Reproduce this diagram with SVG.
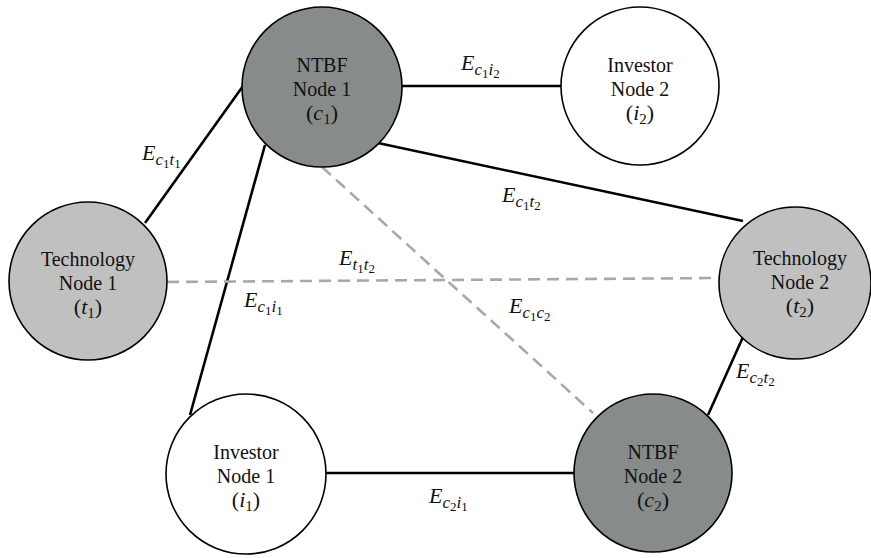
<svg xmlns="http://www.w3.org/2000/svg" width="871" height="558" viewBox="0 0 871 558">
<style>
.solid{stroke:#000;stroke-width:2.6;fill:none}
.dash{stroke:#a8a8a8;stroke-width:2.6;fill:none;stroke-dasharray:12 7}
.node{stroke:#000;stroke-width:1.6}
.ntbf{fill:#878c8b}
.tech{fill:#c0c0c0}
.inv{fill:#fff}
.lbl{font-family:"Liberation Serif","Times New Roman",serif;font-size:20px;fill:#111;text-anchor:middle}
.math{font-size:22px}
.it{font-style:italic}
.sub{font-size:15px}
.elbl{font-family:"Liberation Serif","Times New Roman",serif;font-size:22px;font-style:italic;fill:#111}
.s1{font-size:17px}
.s2{font-size:13px;font-style:normal}
</style>
<rect width="871" height="558" fill="#fff"/>
<g id="connectors">
<line class="solid" x1="145" y1="223" x2="243" y2="86"/>
<line class="solid" x1="402" y1="86" x2="561" y2="86"/>
<line class="solid" x1="378" y1="143" x2="743" y2="221"/>
<line class="solid" x1="265" y1="145" x2="190" y2="415"/>
<line class="dash" x1="322" y1="167" x2="593" y2="413"/>
<line class="dash" x1="167" y1="282" x2="720" y2="278"/>
<line class="solid" x1="326" y1="473" x2="575" y2="473"/>
<line class="solid" x1="708" y1="415" x2="743" y2="337"/>
</g>
<g id="edge-labels">
<text class="elbl" x="142" y="160">E<tspan class="s1" dy="5">c</tspan><tspan class="s2" dy="3">1</tspan><tspan class="s1" dy="-3">t</tspan><tspan class="s2" dy="3">1</tspan></text>
<text class="elbl" x="461" y="70">E<tspan class="s1" dy="5">c</tspan><tspan class="s2" dy="3">1</tspan><tspan class="s1" dy="-3">i</tspan><tspan class="s2" dy="3">2</tspan></text>
<text class="elbl" x="502" y="202">E<tspan class="s1" dy="5">c</tspan><tspan class="s2" dy="3">1</tspan><tspan class="s1" dy="-3">t</tspan><tspan class="s2" dy="3">2</tspan></text>
<text class="elbl" x="339" y="265">E<tspan class="s1" dy="5">t</tspan><tspan class="s2" dy="3">1</tspan><tspan class="s1" dy="-3">t</tspan><tspan class="s2" dy="3">2</tspan></text>
<text class="elbl" x="244" y="307">E<tspan class="s1" dy="5">c</tspan><tspan class="s2" dy="3">1</tspan><tspan class="s1" dy="-3">i</tspan><tspan class="s2" dy="3">1</tspan></text>
<text class="elbl" x="509" y="313">E<tspan class="s1" dy="5">c</tspan><tspan class="s2" dy="3">1</tspan><tspan class="s1" dy="-3">c</tspan><tspan class="s2" dy="3">2</tspan></text>
<text class="elbl" x="736" y="378">E<tspan class="s1" dy="5">c</tspan><tspan class="s2" dy="3">2</tspan><tspan class="s1" dy="-3">t</tspan><tspan class="s2" dy="3">2</tspan></text>
<text class="elbl" x="429" y="503">E<tspan class="s1" dy="5">c</tspan><tspan class="s2" dy="3">2</tspan><tspan class="s1" dy="-3">i</tspan><tspan class="s2" dy="3">1</tspan></text>
</g>
<g id="ntbf1">
<circle class="node ntbf" cx="322" cy="87" r="80"/>
<text class="lbl" x="322" y="72">NTBF</text>
<text class="lbl" x="322" y="96">Node 1</text>
<text class="lbl math" x="322" y="120">(<tspan class="it">c</tspan><tspan class="sub" dy="4">1</tspan><tspan dy="-4">)</tspan></text>
</g>
<g id="investor2">
<circle class="node inv" cx="640" cy="86" r="79"/>
<text class="lbl" x="640" y="72">Investor</text>
<text class="lbl" x="640" y="96">Node 2</text>
<text class="lbl math" x="640" y="120">(<tspan class="it">i</tspan><tspan class="sub" dy="4">2</tspan><tspan dy="-4">)</tspan></text>
</g>
<g id="tech1">
<circle class="node tech" cx="88" cy="281" r="79"/>
<text class="lbl" x="88" y="266">Technology</text>
<text class="lbl" x="88" y="290">Node 1</text>
<text class="lbl math" x="88" y="314">(<tspan class="it">t</tspan><tspan class="sub" dy="4">1</tspan><tspan dy="-4">)</tspan></text>
</g>
<g id="tech2">
<circle class="node tech" cx="795" cy="283" r="76"/>
<text class="lbl" x="800" y="265">Technology</text>
<text class="lbl" x="800" y="289">Node 2</text>
<text class="lbl math" x="800" y="313">(<tspan class="it">t</tspan><tspan class="sub" dy="4">2</tspan><tspan dy="-4">)</tspan></text>
</g>
<g id="investor1">
<circle class="node inv" cx="246" cy="474" r="80"/>
<text class="lbl" x="246" y="459">Investor</text>
<text class="lbl" x="246" y="483">Node 1</text>
<text class="lbl math" x="246" y="507">(<tspan class="it">i</tspan><tspan class="sub" dy="4">1</tspan><tspan dy="-4">)</tspan></text>
</g>
<g id="ntbf2">
<circle class="node ntbf" cx="653" cy="473" r="79"/>
<text class="lbl" x="653" y="459">NTBF</text>
<text class="lbl" x="653" y="483">Node 2</text>
<text class="lbl math" x="653" y="507">(<tspan class="it">c</tspan><tspan class="sub" dy="4">2</tspan><tspan dy="-4">)</tspan></text>
</g>
</svg>
